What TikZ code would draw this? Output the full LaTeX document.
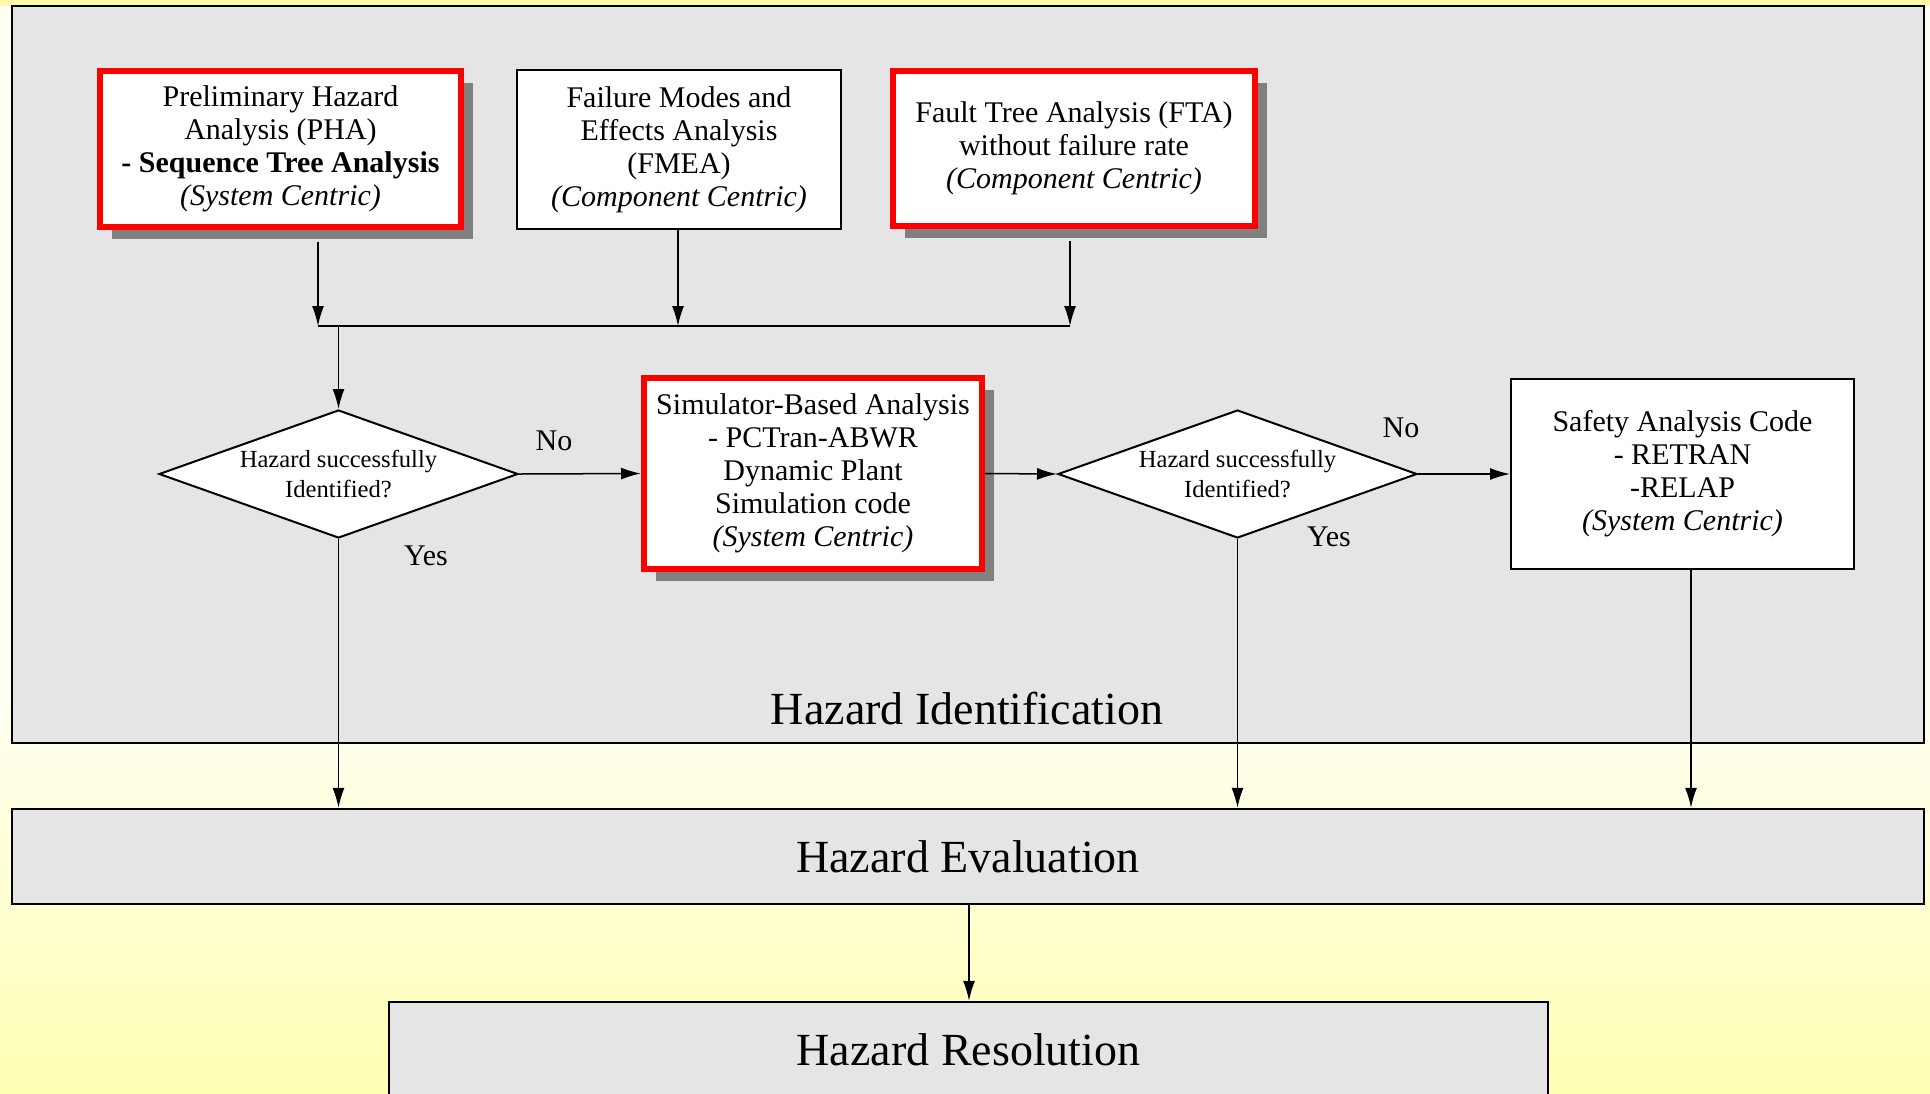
\documentclass[tikz,border=0pt]{standalone}
\usepackage{fontspec}
\setmainfont{Liberation Serif}
\usetikzlibrary{shapes.geometric,arrows.meta,calc,shadows}
\definecolor{bandgray}{HTML}{E5E5E5}
\definecolor{bgtop}{HTML}{FFFFF2}
\definecolor{bgbot}{HTML}{FFFFB4}
\definecolor{stripy}{HTML}{FFF9A8}
\definecolor{shadowgray}{HTML}{808080}
\begin{document}
\begin{tikzpicture}[x=0.5pt,y=-0.5pt,
  every node/.style={align=center},
  boxtext/.style={font=\fontsize{15}{16.5}\selectfont},
  conn/.style={line width=0.75pt},
  arr/.style={conn,-{Latex[length=10pt,width=6pt]}},
  redbox/.style={boxtext,draw=red,line width=3pt,fill=white,inner sep=0pt,
    drop shadow={shadow xshift=6pt,shadow yshift=-6pt,fill=shadowgray,opacity=1}},
  plainbox/.style={boxtext,draw=black,line width=1pt,fill=white,inner sep=0pt},
  dia/.style={diamond,draw=black,line width=1pt,fill=white,inner sep=0pt,
    minimum width=179.5pt,minimum height=64pt},
  diatext/.style={font=\fontsize{12.3}{14.8}\selectfont},
  lbl/.style={font=\fontsize{15}{17}\selectfont},
  band/.style={draw=black,line width=1.2pt,fill=bandgray,inner sep=0pt,
    font=\fontsize{23}{26}\selectfont},
]
\useasboundingbox (0,0) rectangle (1930,1093);
% background
\fill[bgtop] (0,0) rectangle (1930,700);
\shade[top color=bgtop,bottom color=bgbot] (0,699) rectangle (1930,1093);
\fill[stripy] (0,0) rectangle (1930,6);

% Hazard Identification region
\node[band,minimum width=956pt,minimum height=368.5pt] (hid) at (968,374.5) {};
\node[band,draw=none,fill=none] (hidl) at (967,709) {Hazard Identification};

% top boxes
\node[redbox,minimum width=180.5pt,minimum height=78pt] (pha) at (280.5,149)
  {Preliminary Hazard\\Analysis (PHA)\\{\bfseries - Sequence Tree Analysis}\\\textit{(System Centric)}};
\node[plainbox,minimum width=162pt,minimum height=79.5pt] (fmea) at (679,149.5)
  {Failure Modes and\\Effects Analysis\\(FMEA)\\\textit{(Component Centric)}};
\node[redbox,minimum width=181pt,minimum height=77.5pt] (fta) at (1074,148.5)
  {Fault Tree Analysis (FTA)\\without failure rate\\\textit{(Component Centric)}};

% middle row
\node[dia] (d1) at (338.5,474) {};
\node[diatext] (d1t) at (d1) {Hazard successfully\\Identified?};
\node[redbox,minimum width=169pt,minimum height=95.5pt] (sim) at (813,473.5)
  {Simulator-Based Analysis\\- PCTran-ABWR\\Dynamic Plant\\Simulation code\\\textit{(System Centric)}};
\node[dia] (d2) at (1237.5,474) {};
\node[diatext] (d2t) at (d2) {Hazard successfully\\Identified?};
\node[plainbox,minimum width=171.5pt,minimum height=95pt] (safe) at (1682.5,474)
  {Safety Analysis Code\\- RETRAN\\-RELAP\\\textit{(System Centric)}};

% labels
\node[lbl] (no1) at (554,441) {No};
\node[lbl] (yes1) at (426,556) {Yes};
\node[lbl] (no2) at (1401,428) {No};
\node[lbl] (yes2) at (1329,537) {Yes};

% lower bands
\node[band,minimum width=956pt,minimum height=47.5pt] (he) at (968,856.5) {Hazard Evaluation};
\node[band,minimum width=579.5pt,minimum height=48pt] (hr) at (968.5,1050) {Hazard Resolution};

% junction coordinates
\coordinate (j1) at (318,326);
\coordinate (j2) at (678,326);
\coordinate (j3) at (1070,326);
\coordinate (jd) at (d1 |- j1);
\coordinate (sx) at (1691,570);
\coordinate (hx) at (969,904);

% connectors
\draw[arr] ($(pha.south -| j1)+(0,12)$) -- (j1);
\draw[arr] (fmea.south -| j2) -- (j2);
\draw[arr] ($(fta.south -| j3)+(0,12)$) -- (j3);
\draw[conn] (j1) -- (j3);
\draw[arr] (jd) -- (d1.north);
\draw[arr] (d1.east) -- (sim.west);
\draw[arr] (sim.east) -- (d2.west);
\draw[arr] (d2.east) -- (safe.west);
\draw[arr] (d1.south) -- (d1.south |- he.north);
\draw[arr] (d2.south) -- (d2.south |- he.north);
\draw[arr] (safe.south -| sx) -- (sx |- he.north);
\draw[arr] (he.south -| hx) -- (hx |- hr.north);
\end{tikzpicture}
\end{document}
